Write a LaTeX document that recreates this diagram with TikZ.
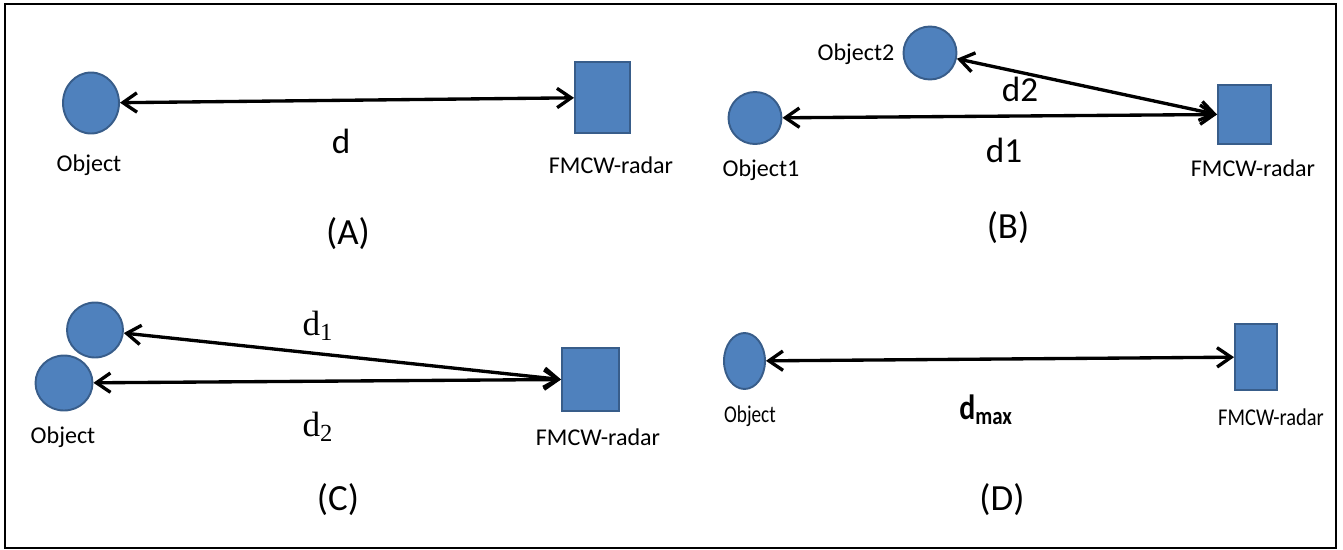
\documentclass[tikz,border=0pt]{standalone}
\usepackage{fontspec}
\setmainfont{Carlito}
\newfontfamily\timesfont{Liberation Serif}
\usetikzlibrary{arrows.meta,shapes.geometric}
\definecolor{objfill}{RGB}{79,129,189}
\definecolor{objline}{RGB}{56,93,138}

\begin{document}
\begin{tikzpicture}[x=0.02cm, y=-0.02cm,
	obj/.style={ellipse, draw=objline, fill=objfill, line width=1.1pt, inner sep=0pt},
	radar/.style={rectangle, draw=objline, fill=objfill, line width=1.1pt, inner sep=0pt},
	lbl/.style={font=\fontsize{13.7}{16}\selectfont, inner sep=0pt},
	dlbl/.style={font=\fontsize{20}{22}\selectfont, inner sep=0pt},
	panellbl/.style={font=\fontsize{21}{24}\selectfont, inner sep=0pt},
	dist/.style={line width=1.9pt, <->, >={Straight Barb[length=8pt,width=11pt]}}]
	%frame
	\useasboundingbox (0,0) rectangle (1343,549);
	\draw[line width=0.9pt] (5,4) rectangle (1336,548);
	
	%(A)
	\node[obj, minimum width=1.12cm, minimum height=1.22cm] (objA) at (91,103) {};
	\node[radar, minimum width=1.1cm, minimum height=1.42cm] (radA) at (602.5,97.5) {};
	\draw[dist] (objA) -- (radA);
	\node[lbl] (labObjA) at (89,165) {Object};
	\node[lbl] (labRadA) at (611,165) {FMCW-radar};
	\node[dlbl] (dA) at (341,141) {d};
	\node[panellbl] (capA) at (348,234) {(A)};
	
	%(B)
	\node[obj, minimum width=1.06cm, minimum height=1.06cm] (obj2B) at (930,53) {};
	\node[obj, minimum width=1.06cm, minimum height=1.04cm] (obj1B) at (755,118) {};
	\node[radar, minimum width=1.06cm, minimum height=1.18cm] (radB) at (1244.5,114.5) {};
	\draw[dist] (obj2B) -- (radB.west);
	\draw[dist] (obj1B) -- (radB.west);
	\node[lbl] (labObj2B) at (856,54) {Object2};
	\node[lbl] (labObj1B) at (761,170) {Object1};
	\node[lbl] (labRadB) at (1253,168) {FMCW-radar};
	\node[dlbl] (d2B) at (1020,89) {d2};
	\node[dlbl] (d1B) at (1004,150) {d1};
	\node[panellbl] (capB) at (1008,228) {(B)};
	
	%(C)
	\node[obj, minimum width=1.12cm, minimum height=1.1cm] (obj1C) at (95,330) {};
	\node[obj, minimum width=1.14cm, minimum height=1.1cm] (obj2C) at (64,383) {};
	\node[radar, minimum width=1.14cm, minimum height=1.26cm] (radC) at (590.5,379.5) {};
	\draw[dist] (obj1C) -- (radC.west);
	\draw[dist] (obj2C) -- (radC.west);
	\node[lbl] (labObjC) at (63,437) {Object};
	\node[lbl] (labRadC) at (598,437) {FMCW-radar};
	\node[dlbl, font=\timesfont\fontsize{20}{22}\selectfont] (d1C) at (318,326) {d\textsubscript{1}};
	\node[dlbl, font=\timesfont\fontsize{20}{22}\selectfont] (d2C) at (318,427) {d\textsubscript{2}};
	\node[panellbl] (capC) at (338,500) {(C)};
	
	%(D)
	\node[obj, minimum width=0.82cm, minimum height=1.12cm] (objD) at (744.5,361) {};
	\node[radar, minimum width=0.84cm, minimum height=1.32cm] (radD) at (1256,357) {};
	\draw[dist] (objD) -- (radD);
	\node[lbl] (labObjD) at (750,416) {\scalebox{0.8}[1]{Object}};
	\node[lbl] (labRadD) at (1271,417) {\scalebox{0.85}[1]{FMCW-radar}};
	\node[dlbl] (dD) at (986,410) {\scalebox{0.85}[1]{\bfseries d\textsubscript{max}}};
	\node[panellbl] (capD) at (1002,500) {(D)};
\end{tikzpicture}
\end{document}
